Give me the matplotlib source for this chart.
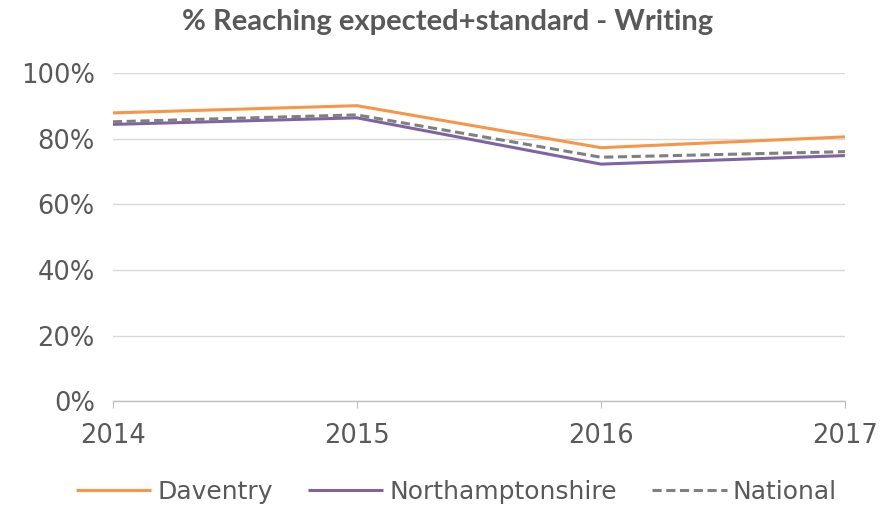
import matplotlib
matplotlib.use("Agg")
import matplotlib.pyplot as plt
from matplotlib.ticker import FuncFormatter

years = ["2014", "2015", "2016", "2017"]
daventry = [87.8, 90.0, 77.2, 80.5]
northamptonshire = [84.3, 86.3, 72.2, 74.8]
national = [85.1, 87.2, 74.3, 76.0]
yticks = [0, 20, 40, 60, 80, 100]

plt.rcParams['font.family'] = ['DejaVu Sans']
txt = '#595959'

fig = plt.figure(figsize=(8.96, 5.13), dpi=100)
ax = fig.add_axes([0.126, 0.218, 0.817, 0.64])
x = list(range(len(years)))
ax.plot(x, daventry, color='#F79646', lw=2.2, label='Daventry', solid_capstyle='butt')
ax.plot(x, northamptonshire, color='#8064A2', lw=2.2, label='Northamptonshire', solid_capstyle='butt')
ax.plot(x, national, color='#808080', lw=2.2, ls=(0, (3, 1.5)), label='National')

ax.set_xlim(0, 3)
ax.set_ylim(0, 100)
ax.set_yticks(yticks)
ax.yaxis.set_major_formatter(FuncFormatter(lambda v, p: f"{int(v)}%"))
ax.set_xticks(x)
ax.set_xticklabels(years)
ax.grid(axis='y', color='#D9D9D9', lw=1)
ax.set_axisbelow(True)
for s in ['top', 'right', 'left']:
    ax.spines[s].set_visible(False)
ax.spines['bottom'].set_color('#BFBFBF')
ax.spines['bottom'].set_linewidth(1)
ax.tick_params(axis='y', length=0, labelsize=18.5, labelcolor=txt, pad=13)
ax.tick_params(axis='x', length=5, color='#BFBFBF', labelsize=18.5, labelcolor=txt, pad=11)
fig.text(0.5, 1 - 22 / 513, '% Reaching expected+standard - Writing', ha='center', va='center',
         fontsize=21, fontweight='bold', color=txt, family=['Lato', 'DejaVu Sans'])

fig.legend(loc='center', bbox_to_anchor=(0.5095, 1 - 492 / 513), ncol=3, frameon=False,
           fontsize=18, labelcolor=txt, handlelength=3.0, columnspacing=1.4, handletextpad=0.25)

fig.savefig('out.png', dpi=100, facecolor='white')
